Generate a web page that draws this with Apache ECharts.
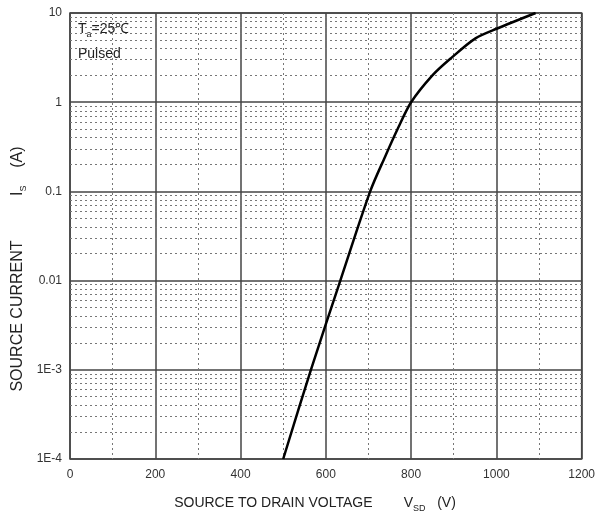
<!DOCTYPE html>
<html>
<head>
<meta charset="utf-8">
<script src="https://cdn.jsdelivr.net/npm/echarts@6/dist/echarts.min.js"></script>
<style>
  html, body { margin: 0; padding: 0; background: #fff; }
  #main { width: 598px; height: 515px; }
</style>
</head>
<body>
<div id="main"></div>
<script>
// 曲线数据 (V_SD, I_S)
var vsd = [500, 565, 634, 704, 739, 770, 800, 850, 893, 951, 1002, 1092];
var isd = [1e-4, 1e-3, 0.01, 0.1, 0.245, 0.52, 1, 2.0, 3.1, 5.2, 6.7, 10];

// 坐标轴刻度
var yTickLabels = { "10": "10", "1": "1", "0.1": "0.1", "0.01": "0.01", "0.001": "1E-3", "0.0001": "1E-4" };
var decades = [-4, -3, -2, -1, 0];
var minorSteps = [2, 3, 4, 5, 6, 7, 8, 9];

// 对数轴次网格线
var minorY = [];
decades.forEach(function (d) {
  minorSteps.forEach(function (k) {
    minorY.push({ yAxis: +(k * Math.pow(10, d)).toPrecision(3) });
  });
});

var curve = vsd.map(function (v, i) { return [v, isd[i]]; });

var font = "'Liberation Sans', Arial, sans-serif";
var sub = { fontSize: 9, fontFamily: font, fill: "#222", padding: [11, 0, 0, 0] };

option = {
  animation: false,
  backgroundColor: "#fff",
  grid: {
    left: 70,
    right: 15,
    top: 13,
    bottom: 56,
    show: true,
    borderColor: "#444",
    borderWidth: 1.5,
  },
  xAxis: {
    type: "value",
    min: 0,
    max: 1200,
    interval: 200,
    axisLine: { show: false },
    axisTick: { show: false },
    axisLabel: {
      color: "#333", fontSize: 12, fontFamily: font, margin: 10,
      formatter: function (v) { return String(v); },
    },
    splitLine: { show: true, lineStyle: { color: "#444", width: 1.5 } },
    minorTick: { show: false, splitNumber: 2 },
    minorSplitLine: { show: true, lineStyle: { color: "#777", type: [2, 3], width: 1 } },
  },
  yAxis: {
    type: "log",
    logBase: 10,
    min: 1e-4,
    max: 10,
    axisLine: { show: false },
    axisTick: { show: false },
    axisLabel: {
      color: "#333",
      fontSize: 12,
      fontFamily: font,
      margin: 8,
      formatter: function (v) {
        var key = String(+v.toPrecision(3));
        return yTickLabels[key] !== undefined ? yTickLabels[key] : "";
      },
    },
    splitLine: { show: true, lineStyle: { color: "#444", width: 1.5 } },
  },
  graphic: [
    {
      type: "text",
      left: 78,
      top: 22,
      style: {
        text: "{m|T}{s|a}{m|=25℃}",
        rich: {
          m: { fontSize: 14, fontFamily: font, fill: "#222" },
          s: sub,
        },
      },
    },
    {
      type: "text",
      left: 78,
      top: 47,
      style: { text: "Pulsed", fontSize: 14, fontFamily: font, fill: "#222" },
    },
    {
      type: "text",
      x: 315,
      y: 503,
      style: {
        text: "{m|SOURCE TO DRAIN VOLTAGE        V}{s|SD}{m|   (V)}",
        align: "center",
        verticalAlign: "middle",
        rich: {
          m: { fontSize: 14, fontFamily: font, fill: "#222" },
          s: sub,
        },
      },
    },
    {
      type: "text",
      x: 18,
      y: 269,
      rotation: Math.PI / 2,
      style: {
        text: "{m|SOURCE CURRENT          I}{s|S}{m|    (A)}",
        align: "center",
        verticalAlign: "middle",
        rich: {
          m: { fontSize: 16, fontFamily: font, fill: "#222" },
          s: sub,
        },
      },
    },
  ],
  series: [
    {
      name: "Is",
      type: "line",
      data: curve,
      smooth: 0.3,
      showSymbol: false,
      lineStyle: { color: "#000", width: 2.5 },
      z: 5,
      markLine: {
        silent: true,
        symbol: "none",
        precision: 8,
        label: { show: false },
        lineStyle: { color: "#777", type: [2, 3], width: 1 },
        data: minorY,
        z: 1,
      },
    },
  ],
};

var chart = echarts.init(document.getElementById("main"));
chart.setOption(option);
</script>
</body>
</html>
